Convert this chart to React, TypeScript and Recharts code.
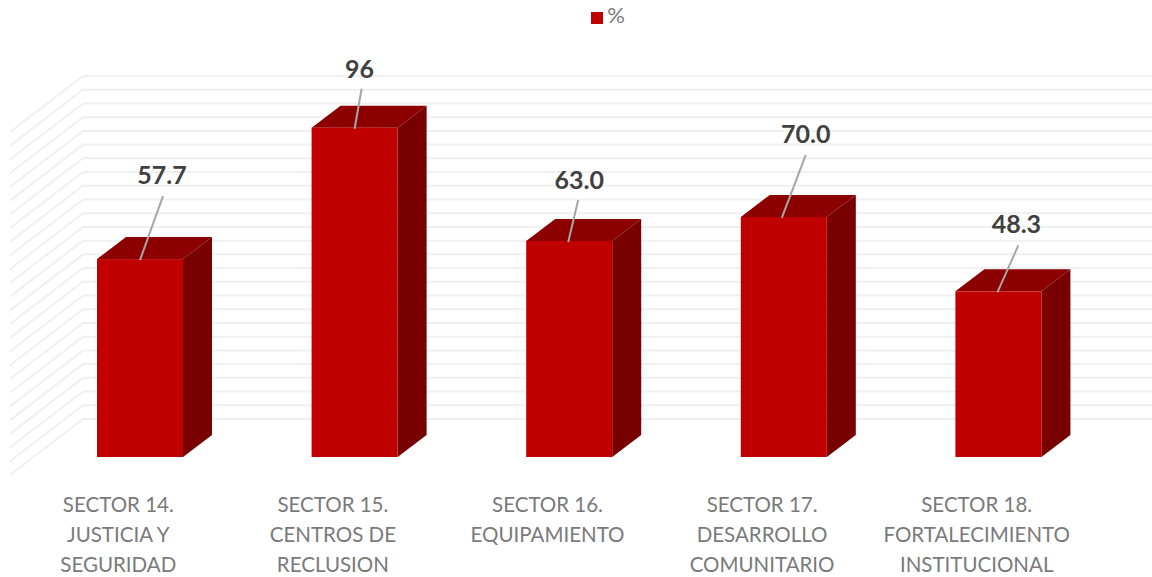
import React from "react";
import { BarChart, Bar, XAxis, YAxis, CartesianGrid, Legend, LabelList } from "recharts";

const categories = ["SECTOR 14. JUSTICIA Y SEGURIDAD", "SECTOR 15. CENTROS DE RECLUSION", "SECTOR 16. EQUIPAMIENTO", "SECTOR 17. DESARROLLO COMUNITARIO", "SECTOR 18. FORTALECIMIENTO INSTITUCIONAL"];
const categoryLines = [
  ["SECTOR 14.", "JUSTICIA Y", "SEGURIDAD"],
  ["SECTOR 15.", "CENTROS DE", "RECLUSION"],
  ["SECTOR 16.", "EQUIPAMIENTO"],
  ["SECTOR 17.", "DESARROLLO", "COMUNITARIO"],
  ["SECTOR 18.", "FORTALECIMIENTO", "INSTITUCIONAL"],
];
const values = [57.7, 96, 63.0, 70.0, 48.3];
const valueLabels = ["57.7", "96", "63.0", "70.0", "48.3"];
const yTicks = [0, 4, 8, 12, 16, 20, 24, 28, 32, 36, 40, 44, 48, 52, 56, 60, 64, 68, 72, 76, 80, 84, 88, 92, 96, 100];

// label placement relative to the top-centre of each bar's front face
const labelOffsets = [
  { dx: 22, dy: -75, ex: 23, ey: -63, sx: 0, sy: 1 },
  { dx: 5, dy: -50, ex: 7, ey: -39, sx: 0, sy: 1 },
  { dx: 10, dy: -52, ex: 9, ey: -41, sx: -1, sy: 1 },
  { dx: 22, dy: -74, ex: 22, ey: -62, sx: -2, sy: 1 },
  { dx: 18, dy: -58, ex: 20, ey: -46, sx: -1, sy: 1 },
];

const rows = categories.map((c, i) => ({ category: c, pct: values[i] }));

const FONT = "Lato, sans-serif";
const DEPTH_X = 29;
const DEPTH_Y = 22;

const Bar3D = (p: any) => {
  const { x, y, width, height } = p;
  const r = x + width;
  const b = y + height;
  return (
    <g>
      <polygon points={`${x},${y} ${x + DEPTH_X},${y - DEPTH_Y} ${r + DEPTH_X},${y - DEPTH_Y} ${r},${y}`} fill="#8C0000" />
      <polygon points={`${r},${y} ${r + DEPTH_X},${y - DEPTH_Y} ${r + DEPTH_X},${b - DEPTH_Y} ${r},${b}`} fill="#780000" />
      <rect x={x} y={y} width={width} height={height} fill="#C00000" />
    </g>
  );
};

const GridLine = (p: any) => {
  const { x1, x2, y1 } = p;
  return (
    <polyline
      points={`${x1 - 23},${y1 + 18} ${x1 + 50},${y1 - 38} ${x2 + 47},${y1 - 38}`}
      fill="none"
      stroke="#F0F0F0"
      strokeWidth={2}
    />
  );
};

const CategoryTick = (p: any) => {
  const { x, y, index } = p;
  return (
    <text x={x - 22} textAnchor="middle" fontFamily={FONT} fontSize={20.5} fill="#7A7A7A">
      {categoryLines[index].map((line, i) => (
        <tspan key={line} x={x - 22} y={y + 47 + i * 30}>
          {line}
        </tspan>
      ))}
    </text>
  );
};

const ValueLabel = (p: any) => {
  const { x, y, width, index } = p;
  const o = labelOffsets[index];
  const cx = x + width / 2;
  return (
    <g>
      <line x1={cx + o.sx} y1={y + o.sy} x2={cx + o.ex} y2={y + o.ey} stroke="#A6A6A6" strokeWidth={2} />
      <text x={cx + o.dx} y={y + o.dy} textAnchor="middle" fontFamily={FONT} fontWeight={700} fontSize={25} fill="#404040">
        {valueLabels[index]}
      </text>
    </g>
  );
};

export default function App() {
  return (
    <div style={{ position: "absolute", left: 0, top: 0, width: 1152, height: 577, background: "#fff" }}>
      <BarChart
        width={1152}
        height={577}
        data={rows}
        margin={{ top: 87, right: 46, bottom: 0, left: 33 }}
        barCategoryGap={0}
      >
        <CartesianGrid vertical={false} horizontal={GridLine as any} horizontalValues={yTicks} />
        <XAxis dataKey="category" axisLine={false} tickLine={false} interval={0} tick={CategoryTick as any} height={120} />
        <YAxis hide domain={[0, 100]} ticks={yTicks} tickCount={26} interval={0} />
        <Legend
          verticalAlign="top"
          iconType="square"
          iconSize={12}
          wrapperStyle={{ position: "absolute", left: 583, top: 1, width: 60, fontFamily: FONT, fontSize: 20 }}
          formatter={(v: any) => <span style={{ color: "#7A7A7A", fontSize: 22 }}>{v}</span>}
        />
        <Bar dataKey="pct" name="%" fill="#C00000" barSize={86} shape={Bar3D as any} isAnimationActive={false}>
          <LabelList dataKey="pct" content={ValueLabel as any} />
        </Bar>
      </BarChart>
    </div>
  );
}
